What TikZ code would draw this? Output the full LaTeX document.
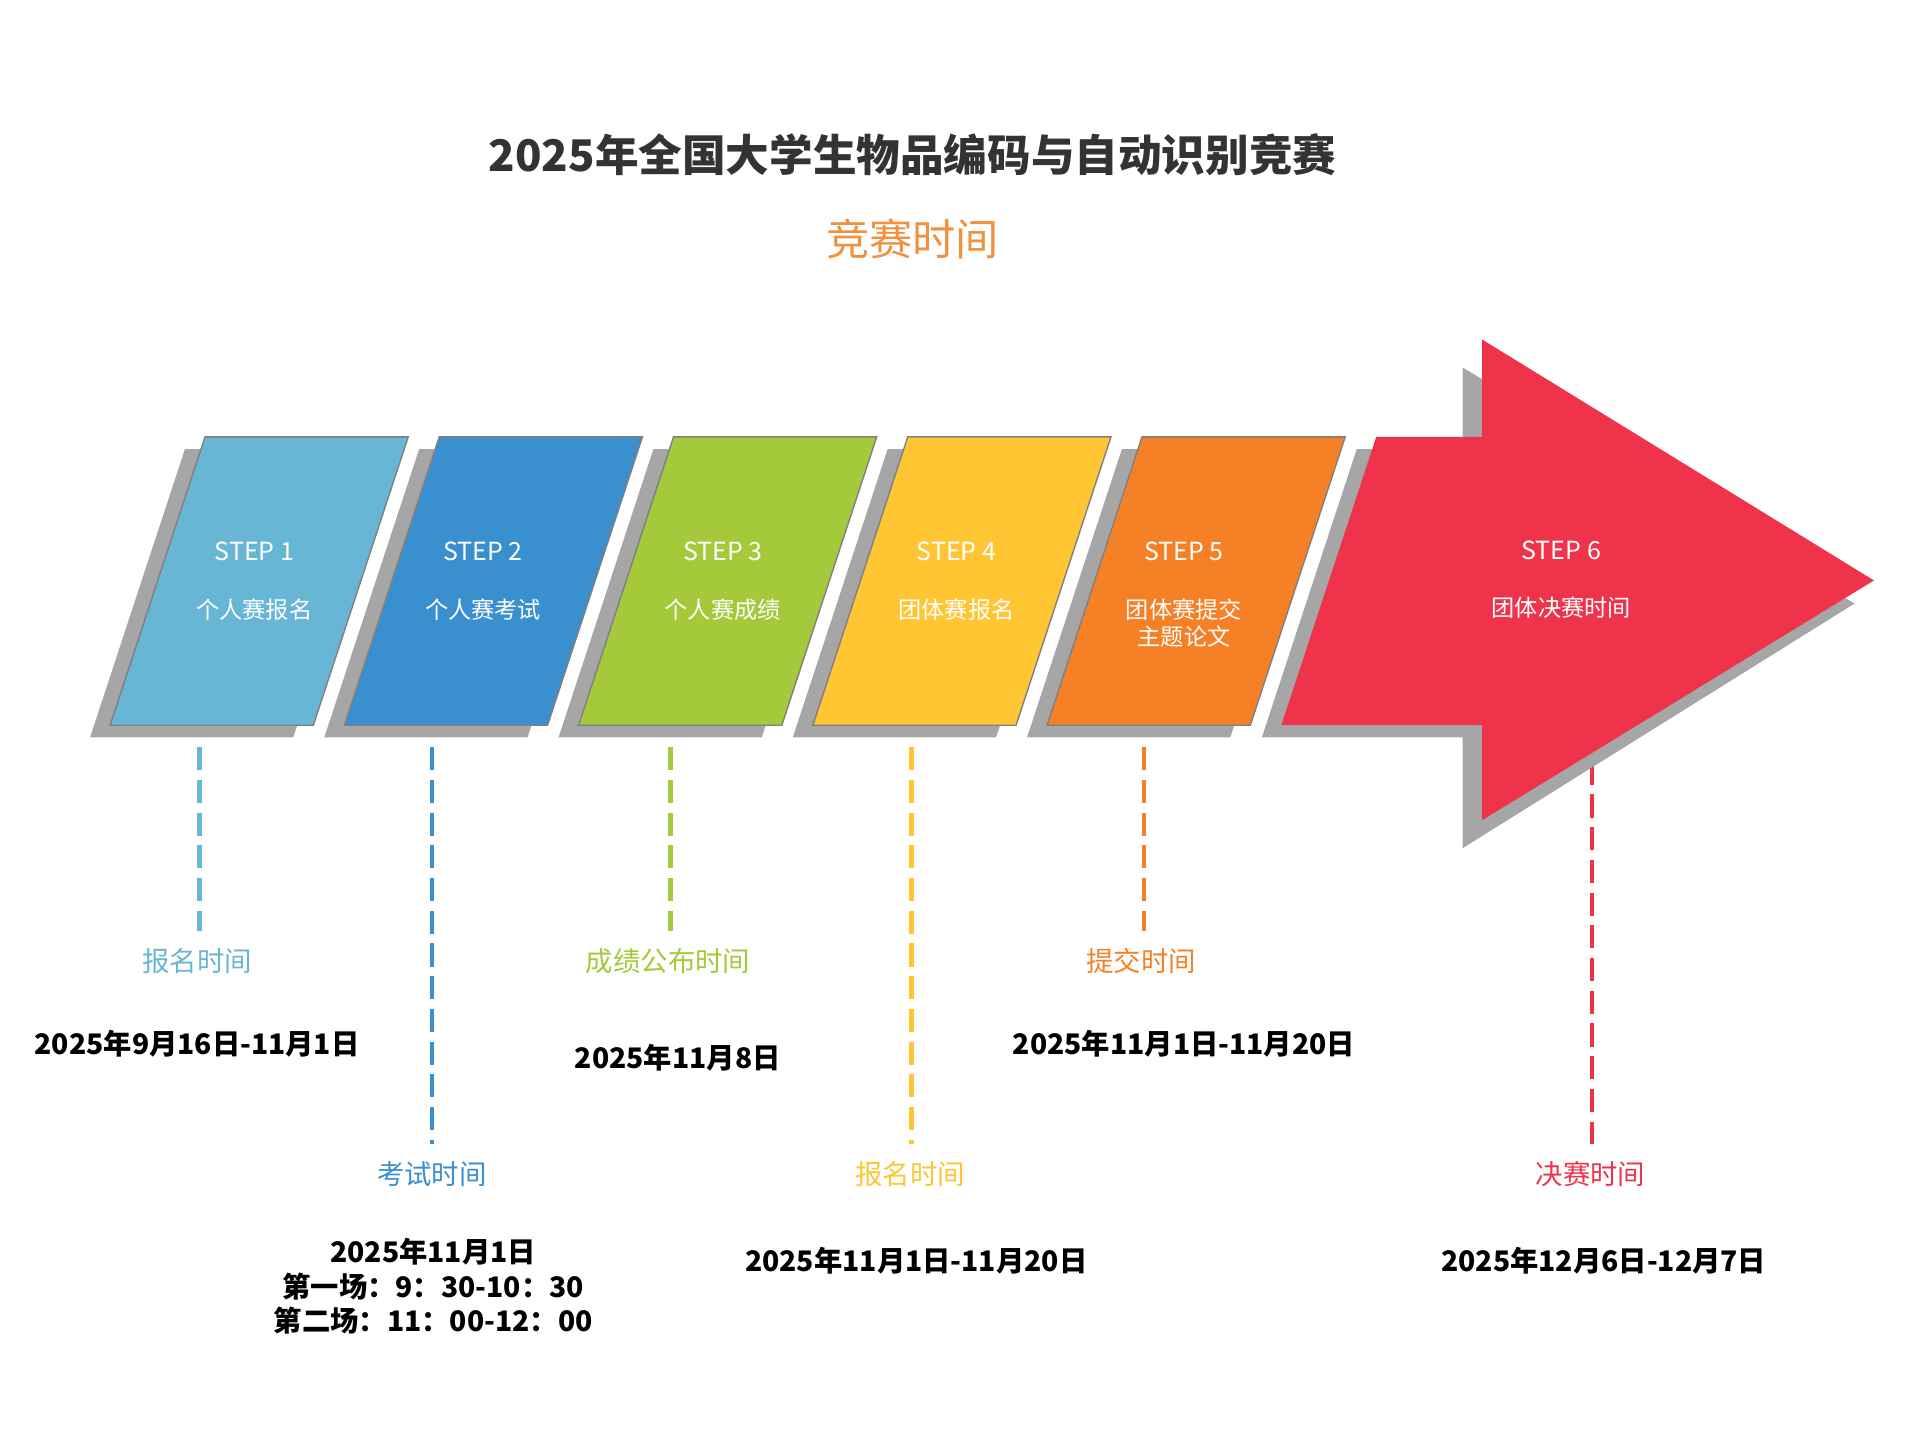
\documentclass[tikz,border=0pt]{standalone}
\usepackage{fontspec}
\setmainfont{Noto Sans CJK SC}

\definecolor{stepA}{HTML}{67B6D6}
\definecolor{stepB}{HTML}{3A8FCF}
\definecolor{stepC}{HTML}{A4C93A}
\definecolor{stepD}{HTML}{FFC533}
\definecolor{stepE}{HTML}{F58025}
\definecolor{stepF}{HTML}{EE334B}
\definecolor{shadowgray}{HTML}{A6A6A6}
\definecolor{titlegray}{HTML}{333333}
\definecolor{suborange}{HTML}{F0913E}

\begin{document}
\begin{tikzpicture}[x=0.012168cm,y=-0.012168cm,
  steptxt/.style={text=white,font=\fontsize{7.1pt}{8pt}\selectfont},
  stepcn/.style={text=white,font=\fontsize{6.6pt}{7.9pt}\selectfont,align=center},
  timelabel/.style={font=\fontsize{7.8pt}{9pt}\selectfont,inner sep=2pt},
  datetxt/.style={font=\bfseries\fontsize{8.05pt}{9.7pt}\selectfont,align=center},
  guide/.style={line width=1.2pt,dash pattern=on 6.6pt off 2.7pt,shorten >=2.8pt}]

\useasboundingbox (0,0) rectangle (1568,1176.8);

% タイトル
\node[font=\bfseries\fontsize{12.4pt}{14pt}\selectfont,text=titlegray] (title) at (750,127) {2025年全国大学生物品编码与自动识别竞赛};
\node[font=\fontsize{12.3pt}{14pt}\selectfont,text=suborange] (subtitle) at (750,196) {竞赛时间};

% 時間ラベル
\node[timelabel,text=stepA] (l1) at (162,790) {报名时间};
\node[timelabel,text=stepB] (l2) at (355,965) {考试时间};
\node[timelabel,text=stepC] (l3) at (549,790) {成绩公布时间};
\node[timelabel,text=stepD] (l4) at (748,965) {报名时间};
\node[timelabel,text=stepE] (l5) at (938,790) {提交时间};
\node[timelabel,text=stepF] (l6) at (1307,965) {决赛时间};

% 破線
\coordinate (g1) at (164,614);
\coordinate (g2) at (355,614);
\coordinate (g3) at (551,614);
\coordinate (g4) at (749,614);
\coordinate (g5) at (940,614);
\coordinate (g6) at (1308,626);
\draw[guide,stepA] (g1) -- (g1 |- l1.north);
\draw[guide,stepB] (g2) -- (g2 |- l2.north);
\draw[guide,stepC] (g3) -- (g3 |- l3.north);
\draw[guide,stepD] (g4) -- (g4 |- l4.north);
\draw[guide,stepE] (g5) -- (g5 |- l5.north);
\draw[guide,stepF] (g6) -- (g6 |- l6.north);

% 影
\fill[shadowgray] (152,369) -- (319,369) -- (241,606) -- (74,606) -- cycle;
\fill[shadowgray] (344.5,369) -- (511.5,369) -- (433.5,606) -- (266.5,606) -- cycle;
\fill[shadowgray] (537,369) -- (704,369) -- (626,606) -- (459,606) -- cycle;
\fill[shadowgray] (729.5,369) -- (896.5,369) -- (818.5,606) -- (651.5,606) -- cycle;
\fill[shadowgray] (922,369) -- (1089,369) -- (1011,606) -- (844,606) -- cycle;
\fill[shadowgray] (1115,369) -- (1202,369) -- (1202,302) -- (1524,496) -- (1202,697) -- (1202,606) -- (1037,606) -- cycle;

% ステップ
\draw[fill=stepA,draw=gray,line width=0.4pt] (168.5,359) -- (335.5,359) -- (257.5,596) -- (90.5,596) -- cycle;
\draw[fill=stepB,draw=gray,line width=0.4pt] (361,359) -- (528,359) -- (450,596) -- (283,596) -- cycle;
\draw[fill=stepC,draw=gray,line width=0.4pt] (553.5,359) -- (720.5,359) -- (642.5,596) -- (475.5,596) -- cycle;
\draw[fill=stepD,draw=gray,line width=0.4pt] (746,359) -- (913,359) -- (835,596) -- (668,596) -- cycle;
\draw[fill=stepE,draw=gray,line width=0.4pt] (938.5,359) -- (1105.5,359) -- (1027.5,596) -- (860.5,596) -- cycle;
\fill[stepF] (1131,359) -- (1218,359) -- (1218,279) -- (1540,477) -- (1218,674) -- (1218,596) -- (1053,596) -- cycle;

\node[steptxt] (s1) at (209,453) {STEP 1};
\node[stepcn] (n1) at (209,501) {个人赛报名};
\node[steptxt] (s2) at (397,453) {STEP 2};
\node[stepcn] (n2) at (397,501) {个人赛考试};
\node[steptxt] (s3) at (594,453) {STEP 3};
\node[stepcn] (n3) at (594,501) {个人赛成绩};
\node[steptxt] (s4) at (786,453) {STEP 4};
\node[stepcn] (n4) at (786,501) {团体赛报名};
\node[steptxt] (s5) at (973,453) {STEP 5};
\node[stepcn] (n5) at (973,512) {团体赛提交\\主题论文};
\node[steptxt] (s6) at (1283,452) {STEP 6};
\node[stepcn] (n6) at (1283,499) {团体决赛时间};

% 日付
\node[datetxt] (d1) at (162,858) {2025年9月16日-11月1日};
\node[datetxt] (d2) at (356,1057) {2025年11月1日\\第一场：9：30-10：30\\第二场：11：00-12：00};
\node[datetxt] (d3) at (557,869) {2025年11月8日};
\node[datetxt] (d4) at (753,1036) {2025年11月1日-11月20日};
\node[datetxt] (d5) at (973,858) {2025年11月1日-11月20日};
\node[datetxt] (d6) at (1318,1036) {2025年12月6日-12月7日};

\end{tikzpicture}
\end{document}
